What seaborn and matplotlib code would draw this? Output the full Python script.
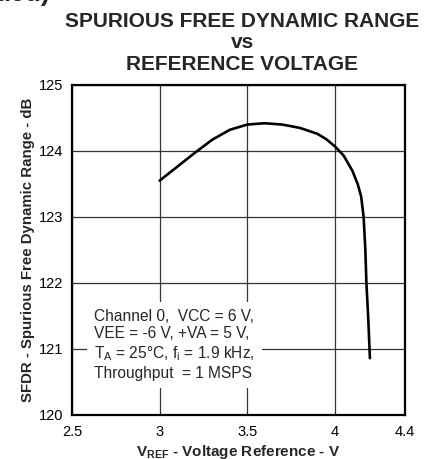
import matplotlib
matplotlib.use("Agg")
import matplotlib.pyplot as plt
import seaborn as sns
import pandas as pd

# SFDR measured against the reference voltage
vref = [3.00, 3.10, 3.20, 3.30, 3.40, 3.50, 3.60, 3.70, 3.80, 3.90, 3.95,
        4.00, 4.05, 4.10, 4.13, 4.15, 4.164, 4.174, 4.18, 4.19, 4.20]
sfdr = [123.55, 123.76, 123.97, 124.17, 124.32, 124.40, 124.42, 124.40,
        124.35, 124.26, 124.18, 124.07, 123.93, 123.70, 123.50, 123.31,
        123.00, 122.50, 121.99, 121.49, 120.86]

x_ticks = [2.5, 3, 3.5, 4, 4.4]
x_tick_labels = ["2.5", "3", "3.5", "4", "4.4"]
y_ticks = [120, 121, 122, 123, 124, 125]

df = pd.DataFrame({"vref": vref, "sfdr": sfdr})

sns.set_style("white")
plt.rcParams["font.family"] = ["Liberation Sans", "DejaVu Sans"]
plt.rcParams["mathtext.fontset"] = "custom"
plt.rcParams["mathtext.rm"] = "Liberation Sans"
plt.rcParams["mathtext.bf"] = "Liberation Sans:bold"

fig = plt.figure(figsize=(4.30, 4.59), dpi=100)
ax = fig.add_axes([0.1674, 0.0959, 0.7744, 0.7190])

sns.lineplot(data=df, x="vref", y="sfdr", ax=ax, color="black",
             linewidth=1.9, sort=False, estimator=None, zorder=3)

ax.set_xlim(2.5, 4.4)
ax.set_ylim(120, 125)
ax.set_xticks(x_ticks)
ax.set_xticklabels(x_tick_labels)
ax.set_yticks(y_ticks)
ax.grid(True, color="0.2", linewidth=0.9)
ax.set_axisbelow(True)
for s in ax.spines.values():
    s.set_linewidth(1.6)
    s.set_color("black")
ax.tick_params(axis="both", length=0, labelsize=10.5, colors="black")
ax.tick_params(axis="x", pad=7)
ax.tick_params(axis="y", pad=6)

ax.set_xlabel(r"V$_{\mathbf{REF}}$ - Voltage Reference - V", fontsize=11,
              fontweight="bold", labelpad=3)
ax.set_ylabel("SFDR - Spurious Free Dynamic Range - dB", fontsize=10.8,
              fontweight="bold", labelpad=3)

ax.text(0.066, 0.322,
        "Channel 0,  VCC = 6 V,\nVEE = -6 V, +VA = 5 V,\n"
        r"T$_{\mathregular{A}}$ = 25°C, f$_{\mathregular{i}}$ = 1.9 kHz,"
        "\nThroughput  = 1 MSPS",
        transform=ax.transAxes, ha="left", va="top", fontsize=11.2,
        linespacing=1.22, zorder=4,
        bbox=dict(facecolor="white", edgecolor="none", pad=5))

title_lines = ["SPURIOUS FREE DYNAMIC RANGE", "vs", "REFERENCE VOLTAGE"]
title_y = [0.9412, 0.8954, 0.8475]
for line, y in zip(title_lines, title_y):
    fig.text(0.563, y, line, ha="center", va="baseline", fontsize=15,
             fontweight="bold")
fig.text(-0.012, 0.997, "ued)", ha="left", va="baseline", fontsize=19,
         fontweight="bold")

fig.savefig("out.png", dpi=100)
